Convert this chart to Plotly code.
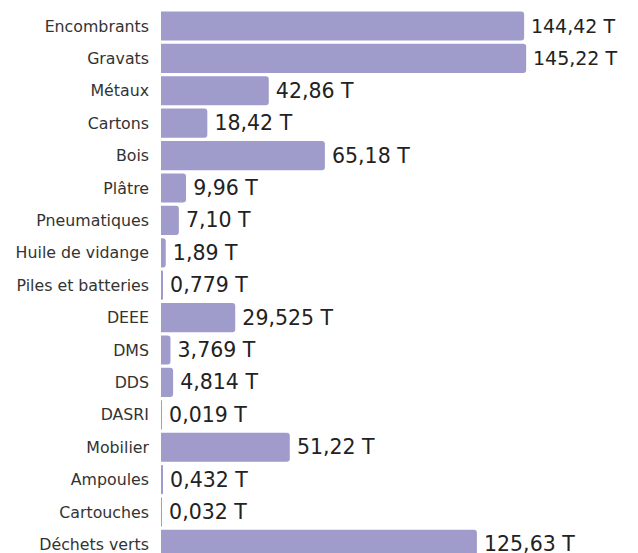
import plotly.graph_objects as go

# Tonnages collected per waste stream (French decimal notation)
categories = [
    "Encombrants", "Gravats", "Métaux", "Cartons", "Bois", "Plâtre",
    "Pneumatiques", "Huile de vidange", "Piles et batteries", "DEEE",
    "DMS", "DDS", "DASRI", "Mobilier", "Ampoules", "Cartouches",
    "Déchets verts",
]
tonnages = [
    "144,42", "145,22", "42,86", "18,42", "65,18", "9,96",
    "7,10", "1,89", "0,779", "29,525",
    "3,769", "4,814", "0,019", "51,22", "0,432", "0,032",
    "125,63",
]
unit = "T"

values = [float(t.replace(",", ".")) for t in tonnages]
# thin space in front keeps the label a little away from the bar end
labels = [f"\u2009{t} {unit}" for t in tonnages]

BAR_COLOR = "#9f9bcb"
FONT = "DejaVu Sans"

# the two longest bars get slightly smaller labels so they fit on the right
max_val = max(values)
label_sizes = [19 if v > 0.9 * max_val else 20.5 for v in values]

fig = go.Figure(
    go.Bar(
        x=values,
        y=categories,
        orientation="h",
        width=0.9,
        marker=dict(color=BAR_COLOR, cornerradius=3, line=dict(width=0)),
        text=labels,
        textposition="outside",
        textfont=dict(family=FONT, size=label_sizes, color="#222222"),
        cliponaxis=True,
        hoverinfo="skip",
    )
)

fig.update_layout(
    width=638,
    height=553,
    margin=dict(l=161, r=0, t=0, b=0),
    paper_bgcolor="white",
    plot_bgcolor="white",
    showlegend=False,
    xaxis=dict(
        range=[0, 189.7],
        visible=False,
        fixedrange=True,
    ),
    yaxis=dict(
        type="category",
        categoryorder="array",
        categoryarray=categories,
        range=[16.265, -0.802],
        showgrid=False,
        zeroline=False,
        showline=False,
        ticks="",
        ticklabelstandoff=11,
        tickfont=dict(family=FONT, size=15.8, color="#333333"),
        fixedrange=True,
    ),
)

fig.write_html("out.html")
